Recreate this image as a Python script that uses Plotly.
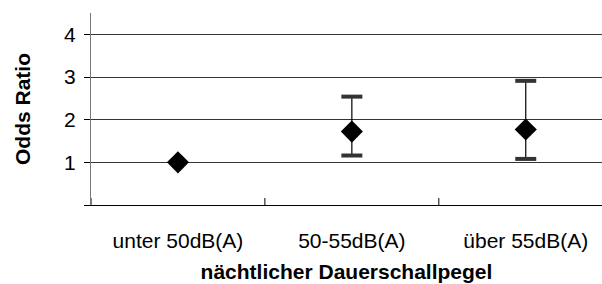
import plotly.graph_objects as go

categories = ["unter 50dB(A)", "50-55dB(A)", "über 55dB(A)"]
odds_ratio = [1.0, 1.72, 1.77]
ci_lower = [None, 1.16, 1.08]
ci_upper = [None, 2.54, 2.91]
y_ticks = [0, 1, 2, 3, 4]
y_ticktext = ["", "1", "2", "3", "4"]

xpos = [i + 0.5 for i in range(len(categories))]
err_plus = [None if u is None else u - v for u, v in zip(ci_upper, odds_ratio)]
err_minus = [None if l is None else v - l for l, v in zip(ci_lower, odds_ratio)]

FONT = "Liberation Sans, Arial, sans-serif"

fig = go.Figure()
# error whiskers (thin)
fig.add_trace(go.Scatter(
    x=xpos, y=odds_ratio, mode="markers",
    marker=dict(size=1, color="rgba(0,0,0,0)"),
    error_y=dict(type="data", symmetric=False, array=[e if e is not None else 0 for e in err_plus],
                 arrayminus=[e if e is not None else 0 for e in err_minus],
                 color="black", thickness=1.2, width=0, visible=True),
    hoverinfo="skip", showlegend=False))
# caps (thick)
cap_x = [x for x, u in zip(xpos, ci_upper) if u is not None] * 2
cap_y = [u for u in ci_upper if u is not None] + [l for l in ci_lower if l is not None]
fig.add_trace(go.Scatter(
    x=cap_x, y=cap_y, mode="markers",
    marker=dict(symbol="line-ew", size=15, line=dict(width=4, color="#333333")),
    hoverinfo="skip", showlegend=False))
# diamonds
fig.add_trace(go.Scatter(
    x=xpos, y=odds_ratio, mode="markers",
    marker=dict(symbol="diamond", size=17, color="black"),
    showlegend=False))

# category boundary tick marks crossing the x axis
for b in range(len(categories)):
    fig.add_shape(type="line", xref="x", yref="y", x0=b, x1=b,
                  ysizemode="pixel", yanchor=0, y0=-6, y1=7,
                  line=dict(color="black", width=1))

fig.update_layout(
    width=602, height=284,
    margin=dict(l=91, r=0, t=13, b=79),
    paper_bgcolor="white", plot_bgcolor="white",
    font=dict(family=FONT, size=21, color="black"),
)
fig.update_xaxes(
    range=[0, 2.9385], tickvals=xpos, ticktext=categories, ticks="",
    showgrid=False, zeroline=False, showline=True, linecolor="black", linewidth=1,
    tickfont=dict(size=21), ticklabelstandoff=17, automargin=False,
    title=dict(text="<b>nächtlicher Dauerschallpegel</b>", font=dict(size=21), standoff=13),
)
fig.update_yaxes(
    range=[0, 4.5], tickvals=y_ticks, ticktext=y_ticktext, ticks="outside", ticklen=6,
    tickcolor="black", showgrid=True, gridcolor="#333333", gridwidth=1,
    zeroline=False, showline=True, linecolor="#777777", linewidth=1,
    tickfont=dict(size=21), ticklabelstandoff=4, automargin=False,
    title=dict(text="<b>Odds Ratio</b>", font=dict(size=21), standoff=27),
)

fig.write_html("out.html", config={"displayModeBar": False},
               post_script="document.body.style.margin='0';document.body.style.overflow='hidden';")
